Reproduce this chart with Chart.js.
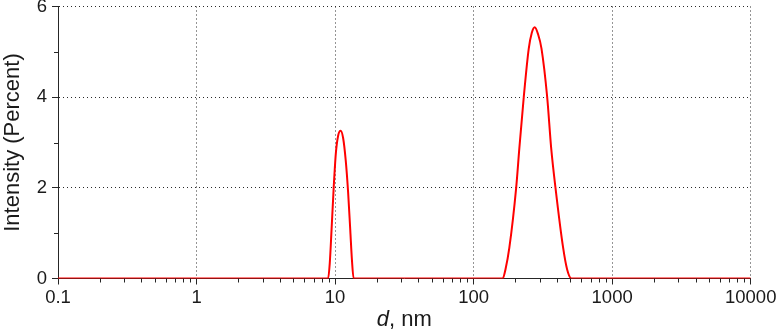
<!DOCTYPE html>
<html>
<head>
<meta charset="utf-8">
<script src="https://cdn.jsdelivr.net/npm/chart.js@4.4.1/dist/chart.umd.min.js"></script>
<style>
html,body{margin:0;padding:0;background:#ffffff;}
#wrap{width:776px;height:331px;position:relative;}
</style>
</head>
<body>
<div id="wrap"><canvas id="c" width="776" height="331"></canvas></div>
<script>
// ---- data ----
const sizesNm = [0.1, 8.91, 9.16, 9.44, 9.77, 10.12, 10.52, 10.96, 11.43, 11.94, 12.42, 12.88, 13.24, 13.61,
                 162.2, 169.8, 181.1, 202.8, 213.8, 230.1, 250.0, 263.0, 276.1, 291.7, 309.0, 339.6, 363.1, 389.9, 442.6, 473.2, 508.2, 10000];
const intensityPct = [0, 0, 0.35, 1.1, 2.0, 2.75, 3.15, 3.26, 3.1, 2.6, 1.9, 1.05, 0.4, 0,
                      0, 0.2, 0.68, 2.0, 2.87, 4.0, 5.07, 5.42, 5.54, 5.39, 5.07, 4.0, 2.87, 2.0, 0.68, 0.2, 0, 0];
const xTickValues = [0.1, 1, 10, 100, 1000, 10000];
const xTickLabels = ['0.1', '1', '10', '100', '1000', '10000'];
const xMinorSteps = [2, 3, 4, 5, 6, 7, 8, 9];
const yTickValues = [0, 2, 4, 6];
const yMinorValues = [1, 3, 5];
const xTitleItalic = 'd';
const xTitleRest = ', nm';
const yTitle = 'Intensity (Percent)';

const FONT = '"Liberation Sans", Arial, Helvetica, sans-serif';
const AXIS = '#262626';
const GRID = '#2a2a2a';
const TEXT = '#1a1a1a';

const points = sizesNm.map((d, i) => ({x: d, y: intensityPct[i]}));

const extras = {
  id: 'extras',
  afterDraw(chart) {
    const ctx = chart.ctx, xs = chart.scales.x, ys = chart.scales.y;
    const ca = chart.chartArea;
    ctx.save();
    ctx.strokeStyle = AXIS;
    ctx.lineWidth = 1;
    ctx.beginPath();
    for (let k = 0; k < xTickValues.length - 1; k++) {
      xMinorSteps.forEach(m => {
        const v = xTickValues[k] * m;
        const px = Math.round(xs.getPixelForValue(v)) + 0.5;
        ctx.moveTo(px, ca.bottom);
        ctx.lineTo(px, ca.bottom + 4);
      });
    }
    yMinorValues.forEach(v => {
      const py = Math.round(ys.getPixelForValue(v)) + 0.5;
      ctx.moveTo(ca.left - 4, py);
      ctx.lineTo(ca.left, py);
    });
    ctx.stroke();
    // x-axis title with italic "d"
    ctx.fillStyle = TEXT;
    ctx.textBaseline = 'middle';
    ctx.textAlign = 'left';
    const fi = 'italic 22px ' + FONT, fn = '22px ' + FONT;
    ctx.font = fi; const w1 = ctx.measureText(xTitleItalic).width;
    ctx.font = fn; const w2 = ctx.measureText(xTitleRest).width;
    const cx = (ca.left + ca.right) / 2;
    const x0 = cx - (w1 + w2) / 2;
    const ty = 319.5;
    ctx.font = fi; ctx.fillText(xTitleItalic, x0, ty);
    ctx.font = fn; ctx.fillText(xTitleRest, x0 + w1, ty);
    ctx.restore();
  }
};

new Chart(document.getElementById('c'), {
  type: 'line',
  data: {
    datasets: [{
      data: points,
      borderColor: '#ff0000',
      borderWidth: 2,
      pointRadius: 0,
      fill: false,
      cubicInterpolationMode: 'monotone'
    }]
  },
  options: {
    responsive: false,
    devicePixelRatio: 1,
    animation: false,
    layout: {padding: 0},
    plugins: {legend: {display: false}, tooltip: {enabled: false}, title: {display: false}},
    scales: {
      x: {
        type: 'logarithmic',
        min: 0.1, max: 10000,
        afterBuildTicks: (s) => { s.ticks = xTickValues.map(v => ({value: v, major: true})); },
        afterFit: (s) => { s.height = 52.5; s.paddingLeft = 0; s.paddingRight = 25.3; },
        ticks: {
          autoSkip: false, maxRotation: 0, minRotation: 0,
          color: TEXT, padding: 2,
          font: {family: FONT, size: 18.5},
          callback: (v) => { const i = xTickValues.indexOf(v); return i >= 0 ? xTickLabels[i] : ''; }
        },
        grid: {
          color: (c) => (c.tick && c.tick.value === 0.1) ? 'rgba(0,0,0,0)' : GRID,
          lineWidth: 1,
          drawTicks: true, tickLength: 6, tickColor: AXIS
        },
        border: {display: true, color: AXIS, width: 1, dash: [1, 3]}
      },
      y: {
        type: 'linear',
        min: 0, max: 6,
        afterBuildTicks: (s) => { s.ticks = yTickValues.map(v => ({value: v})); },
        afterFit: (s) => { s.width = 58; s.paddingTop = 6.5; s.paddingBottom = 0; },
        ticks: {color: TEXT, padding: 5, font: {family: FONT, size: 18.5}},
        grid: {
          color: (c) => (c.tick && c.tick.value === 0) ? 'rgba(0,0,0,0)' : GRID,
          lineWidth: 1,
          drawTicks: true, tickLength: 6, tickColor: AXIS
        },
        border: {display: true, color: AXIS, width: 1, dash: [1, 3]},
        title: {display: true, text: yTitle, color: TEXT, font: {family: FONT, size: 22, lineHeight: 1.15}, padding: 0}
      }
    }
  },
  plugins: [extras]
});
</script>
</body>
</html>
